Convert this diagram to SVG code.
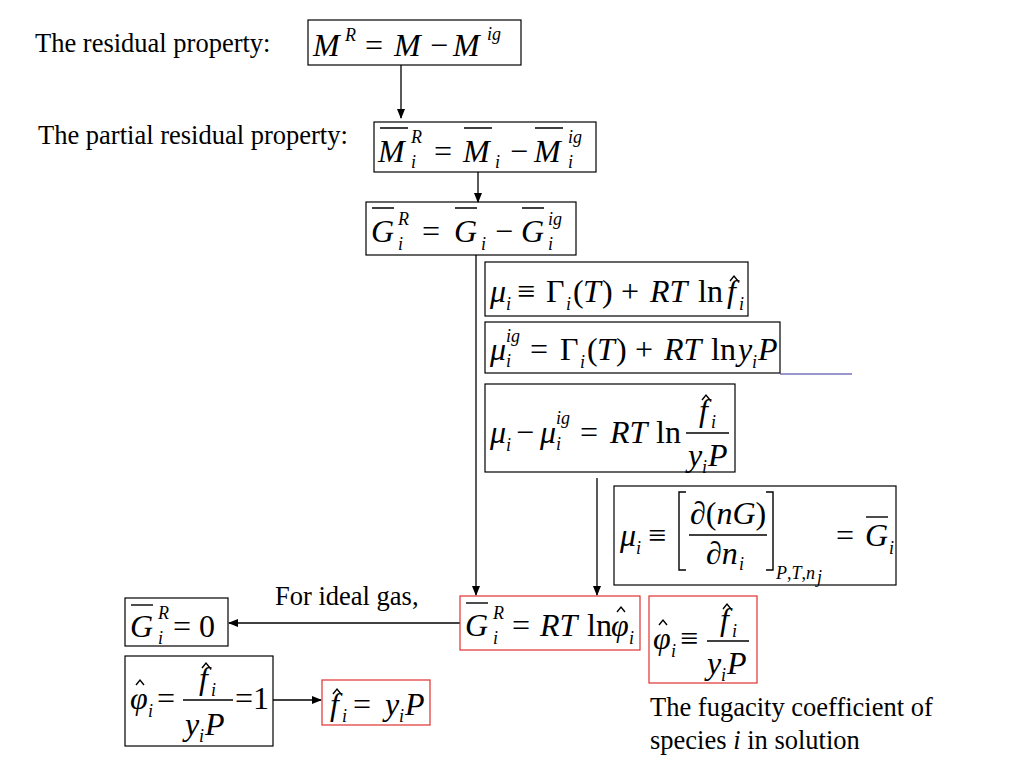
<svg xmlns="http://www.w3.org/2000/svg" width="1024" height="768" viewBox="0 0 1024 768">
<style>
text{font-family:"Liberation Serif","DejaVu Serif",serif;fill:#000}
.t{font-size:26.5px}
.m{font-size:32px;font-style:italic}
.n{font-size:32px}
.s{font-size:18px;font-style:italic}
.b{fill:none;stroke:#000;stroke-width:1.2}
.rb{fill:none;stroke:#e03030;stroke-width:1.2}
.c{stroke:#000;stroke-width:1.3;fill:none}
.ob{stroke:#000;stroke-width:1.4;fill:none}
</style>
<defs><marker id="a" markerWidth="10" markerHeight="8" refX="9" refY="4" orient="auto" markerUnits="userSpaceOnUse"><path d="M0,0L10,4L0,8z" fill="#000"/></marker></defs>
<g id="labels">
<text class="t" x="35" y="52">The residual property:</text>
<text class="t" x="38" y="144">The partial residual property:</text>
<text class="t" x="275" y="605">For ideal gas,</text>
<text class="t" x="650" y="716">The fugacity coefficient of</text>
<text class="t" x="650" y="749">species <tspan font-style="italic">i</tspan> in solution</text>
</g>
<g id="connectors">
<line class="c" x1="401" y1="65" x2="401" y2="118" marker-end="url(#a)"/>
<line class="c" x1="478" y1="172" x2="478" y2="202" marker-end="url(#a)"/>
<line class="c" x1="476" y1="255" x2="476" y2="595" marker-end="url(#a)"/>
<line class="c" x1="597" y1="478" x2="597" y2="595" marker-end="url(#a)"/>
<line class="c" x1="460" y1="623" x2="229" y2="623" marker-end="url(#a)"/>
<line class="c" x1="273" y1="700" x2="321" y2="700" marker-end="url(#a)"/>
<line x1="780" y1="374" x2="852" y2="374" stroke="#333399" stroke-width="1.2"/>
</g>
<g id="n1"><rect class="b" x="308" y="20" width="213" height="45"/>
<text class="m" x="313" y="56">M</text><text class="s" x="345" y="41">R</text><text class="n" x="365" y="56">=</text><text class="m" x="394" y="56">M</text><text class="n" x="430" y="56">−</text><text class="m" x="453" y="56">M</text><text class="s" x="487" y="40">ig</text></g>
<g id="n2"><rect class="b" x="374" y="122" width="222" height="50"/>
<path class="ob" d="M380,128H408M464,128H492M535,128H563"/>
<text class="m" x="378" y="162">M</text><text class="s" x="411" y="143">R</text><text class="s" x="411" y="168">i</text><text class="n" x="434" y="162">=</text><text class="m" x="463" y="162">M</text><text class="s" x="495" y="168">i</text><text class="n" x="510" y="162">−</text><text class="m" x="534" y="162">M</text><text class="s" x="568" y="143">ig</text><text class="s" x="568" y="168">i</text></g>
<g id="n3"><rect class="b" x="366" y="202" width="210" height="53"/>
<path class="ob" d="M372,208H394M455,208H477M522,208H544"/>
<text class="m" x="371" y="242">G</text><text class="s" x="398" y="225">R</text><text class="s" x="398" y="250">i</text><text class="n" x="422" y="242">=</text><text class="m" x="454" y="242">G</text><text class="s" x="481" y="250">i</text><text class="n" x="495" y="242">−</text><text class="m" x="521" y="242">G</text><text class="s" x="548" y="225">ig</text><text class="s" x="548" y="250">i</text></g>
<g id="n4"><rect class="b" x="485" y="262" width="263" height="54"/>
<text class="m" x="490" y="302">μ</text><text class="s" x="506" y="310">i</text><text class="n" x="517" y="302">≡</text><text class="n" x="546" y="302">Γ</text><text class="s" x="566" y="310">i</text><text class="n" x="573" y="302">(</text><text class="m" x="583" y="302">T</text><text class="n" x="602" y="302">)</text><text class="n" x="621" y="302">+</text><text class="m" x="650" y="302">RT</text><text class="n" x="698" y="302">ln</text><text class="m" x="727" y="302">f</text><path class="ob" d="M730,281l4,-5l4,5"/><text class="s" x="739" y="310">i</text></g>
<g id="n5"><rect class="b" x="485" y="322" width="295" height="51"/>
<text class="m" x="490" y="360">μ</text><text class="s" x="506" y="342">ig</text><text class="s" x="506" y="367">i</text><text class="n" x="530" y="360">=</text><text class="n" x="560" y="360">Γ</text><text class="s" x="580" y="368">i</text><text class="n" x="587" y="360">(</text><text class="m" x="597" y="360">T</text><text class="n" x="616" y="360">)</text><text class="n" x="635" y="360">+</text><text class="m" x="664" y="360">RT</text><text class="n" x="711" y="360">ln</text><text class="m" x="738" y="360">y</text><text class="s" x="752" y="368">i</text><text class="m" x="758" y="360">P</text></g>
<g id="n6"><rect class="b" x="485" y="384" width="250" height="88"/>
<text class="m" x="490" y="443">μ</text><text class="s" x="506" y="451">i</text><text class="n" x="516" y="443">−</text><text class="m" x="540" y="443">μ</text><text class="s" x="556" y="424">ig</text><text class="s" x="556" y="450">i</text><text class="n" x="580" y="443">=</text><text class="m" x="610" y="443">RT</text><text class="n" x="656" y="443">ln</text>
<line class="ob" x1="686" y1="433" x2="729" y2="433"/>
<text class="m" x="699" y="421">f</text><path class="ob" d="M702,400l4,-5l4,5"/><text class="s" x="711" y="428">i</text>
<text class="m" x="688" y="466">y</text><text class="s" x="702" y="473">i</text><text class="m" x="708" y="466">P</text></g>
<g id="n7"><rect class="b" x="614" y="486" width="282" height="99"/>
<text class="m" x="620" y="546">μ</text><text class="s" x="636" y="554">i</text><text class="n" x="648" y="546">≡</text>
<path class="ob" d="M686,492H679V570H686M766,492H773V570H766"/>
<line class="ob" x1="689" y1="535" x2="767" y2="535"/>
<text class="m" x="690" y="524">∂<tspan font-style="normal">(</tspan>nG<tspan font-style="normal">)</tspan></text>
<text class="m" x="706" y="564">∂n</text><text class="s" x="739" y="570">i</text>
<text class="s" font-size="15" x="776" y="579">P<tspan font-style="normal">,</tspan>T<tspan font-style="normal">,</tspan>n</text><text class="s" font-size="11" x="817" y="583">j</text>
<text class="n" x="836" y="546">=</text><text class="m" x="865" y="546">G</text><path class="ob" d="M866,517H888"/><text class="s" x="889" y="554">i</text></g>
<g id="n8"><rect class="rb" x="460" y="596" width="180" height="54"/>
<path class="ob" d="M466,603H488"/>
<text class="m" x="465" y="636">G</text><text class="s" x="493" y="619">R</text><text class="s" x="493" y="644">i</text><text class="n" x="512" y="636">=</text><text class="m" x="540" y="636">RT</text><text class="n" x="587" y="636">ln</text><text class="m" x="611" y="636">φ</text><path class="ob" d="M617,612l4,-5l4,5"/><text class="s" x="629" y="644">i</text></g>
<g id="n9"><rect class="rb" x="649" y="596" width="108" height="87"/>
<text class="m" x="653" y="649">φ</text><path class="ob" d="M659,625l4,-5l4,5"/><text class="s" x="671" y="657">i</text><text class="n" x="680" y="649">≡</text>
<line class="ob" x1="707" y1="641" x2="749" y2="641"/>
<text class="m" x="720" y="630">f</text><path class="ob" d="M723,609l4,-5l4,5"/><text class="s" x="732" y="637">i</text>
<text class="m" x="707" y="674">y</text><text class="s" x="721" y="681">i</text><text class="m" x="727" y="674">P</text></g>
<g id="n10"><rect class="b" x="125" y="598" width="103" height="48"/>
<path class="ob" d="M131,605H153"/>
<text class="m" x="130" y="637">G</text><text class="s" x="158" y="619">R</text><text class="s" x="158" y="644">i</text><text class="n" x="173" y="637">= 0</text></g>
<g id="n11"><rect class="b" x="125" y="656" width="148" height="90"/>
<text class="m" x="130" y="709">φ</text><path class="ob" d="M136,685l4,-5l4,5"/><text class="s" x="148" y="717">i</text><text class="n" x="157" y="709">=</text>
<line class="ob" x1="183" y1="700" x2="233" y2="700"/>
<text class="m" x="199" y="689">f</text><path class="ob" d="M202,668l4,-5l4,5"/><text class="s" x="211" y="696">i</text>
<text class="m" x="185" y="735">y</text><text class="s" x="199" y="742">i</text><text class="m" x="205" y="735">P</text>
<text class="n" x="235" y="709">=1</text></g>
<g id="n12"><rect class="rb" x="322" y="680" width="108" height="45"/>
<text class="m" x="330" y="715">f</text><path class="ob" d="M333,694l4,-5l4,5"/><text class="s" x="342" y="722">i</text><text class="n" x="353" y="715">=</text><text class="m" x="385" y="715">y</text><text class="s" x="399" y="722">i</text><text class="m" x="405" y="715">P</text></g>
</svg>
